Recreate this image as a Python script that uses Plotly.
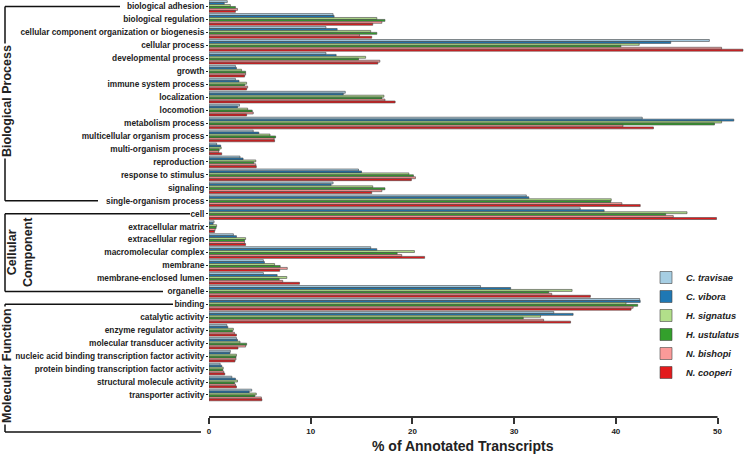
import plotly.graph_objects as go

categories = [
    "biological adhesion", "biological regulation",
    "cellular component organization or biogenesis", "cellular process",
    "developmental process", "growth", "immune system process", "localization",
    "locomotion", "metabolism process", "multicellular organism process",
    "multi-organism process", "reproduction", "response to stimulus",
    "signaling", "single-organism process",
    "cell", "extracellular matrix", "extracellular region",
    "macromolecular complex", "membrane", "membrane-enclosed lumen", "organelle",
    "binding", "catalytic activity", "enzyme regulator activity",
    "molecular transducer activity",
    "nucleic acid binding transcription factor activity",
    "protein binding transcription factor activity",
    "structural molecule activity", "transporter activity",
]

species = ["C. travisae", "C. vibora", "H. signatus", "H. ustulatus", "N. bishopi", "N. cooperi"]
colors = ["#a6cee3", "#1f78b4", "#b2df8a", "#33a02c", "#fb9a99", "#e31a1c"]

c_travisae = [1.8, 12.2, 11.5, 49.2, 11.5, 2.6, 2.6, 13.4, 3.0, 42.6, 4.35, 0.75, 3.05, 14.7, 12.2, 31.2,
              36.5, 0.5, 2.4, 15.9, 5.35, 5.35, 26.7,
              42.35, 33.9, 1.75, 2.7, 2.1, 1.1, 2.25, 4.2]
c_vibora = [1.5, 12.3, 12.6, 45.4, 12.5, 2.7, 2.95, 13.2, 2.8, 51.6, 4.9, 1.15, 3.35, 15.0, 12.0, 31.45,
            38.85, 0.4, 2.7, 16.5, 5.45, 6.7, 29.66,
            42.4, 35.8, 1.85, 2.8, 2.05, 1.25, 2.6, 3.95]
h_signatus = [2.1, 16.5, 15.9, 42.3, 15.4, 3.2, 3.7, 17.2, 3.8, 50.4, 6.0, 1.2, 4.6, 19.65, 16.1, 39.55,
              47.0, 0.75, 3.6, 20.2, 6.45, 7.65, 35.7,
              41.0, 32.6, 2.4, 3.05, 2.7, 1.4, 2.8, 4.65]
h_ustulatus = [2.6, 17.3, 16.5, 40.5, 14.7, 3.6, 3.5, 17.0, 4.25, 49.7, 6.55, 1.0, 4.4, 20.1, 17.3, 39.5,
               44.9, 0.7, 3.5, 18.5, 7.0, 6.9, 33.4,
               42.15, 30.9, 2.3, 3.7, 2.65, 1.35, 2.5, 4.5]
n_bishopi = [2.8, 17.0, 14.8, 50.4, 16.8, 3.6, 3.8, 17.3, 4.35, 40.7, 6.4, 0.95, 4.6, 20.3, 17.0, 40.6,
             45.65, 0.6, 3.5, 18.95, 7.7, 7.25, 33.7,
             41.7, 32.9, 2.5, 3.6, 2.65, 1.45, 2.6, 5.15]
n_cooperi = [2.6, 16.1, 16.0, 52.5, 16.6, 3.5, 3.7, 18.3, 3.7, 43.7, 6.45, 1.25, 4.65, 19.9, 16.0, 42.4,
             49.9, 0.55, 3.6, 21.2, 6.95, 8.9, 37.5,
             41.5, 35.55, 2.7, 2.85, 2.55, 1.55, 2.7, 5.2]

series = [c_travisae, c_vibora, h_signatus, h_ustulatus, n_bishopi, n_cooperi]

# groups: (label, first category, last category)
groups = [
    ("Biological Process", "biological adhesion", "single-organism process"),
    ("Cellular<br>Component", "cell", "organelle"),
    ("Molecular Function", "binding", "transporter activity"),
]

W, H = 745, 456
L, R, T, B = 209, 0, 0, 39
pw, ph = W - L - R, H - T - B


def px(x):
    return (x - L) / pw


def py(y):
    return (H - B - y) / ph


font = "Liberation Sans, Arial, sans-serif"

fig = go.Figure()
for name, vals, col in zip(species, series, colors):
    fig.add_trace(go.Bar(
        y=categories, x=vals, name=name, orientation="h",
        marker=dict(color=col, line=dict(color="#444", width=0.6)),
    ))

n = len(categories)
fig.update_layout(
    template="none",
    width=W, height=H, autosize=False,
    margin=dict(l=L, r=R, t=T, b=B, autoexpand=False),
    paper_bgcolor="white", plot_bgcolor="white",
    barmode="group", bargap=0.1, bargroupgap=0,
    font=dict(family=font, color="#222"),
    xaxis=dict(range=[0, 52.7], dtick=10, showgrid=False, zeroline=False, showline=False,
               automargin=False,
               ticks="outside", ticklen=6, tickwidth=1.5, tickcolor="#333",
               tickfont=dict(size=8, weight="bold")),
    yaxis=dict(type="category", categoryorder="array", categoryarray=categories,
               range=[n - 1 + 1.7, -0.5], showgrid=False, zeroline=False, showline=False,
               automargin=False,
               ticks="outside", ticklen=2, tickcolor="#222",
               tickfont=dict(size=8.3, weight="bold", color="#222")),
    legend=dict(x=1, y=py(263), xanchor="right", yanchor="top",
                font=dict(size=9.3, style="italic", weight="bold"),
                tracegroupgap=0, bgcolor="rgba(0,0,0,0)"),
    showlegend=True,
)

# x axis line from 0 to 50
fig.add_shape(type="line", xref="x", yref="paper", x0=0, x1=50, y0=0, y1=0,
              line=dict(color="#333", width=2))

fig.add_annotation(text="% of Annotated Transcripts", xref="x", yref="paper",
                   x=25, y=py(446), xanchor="center", yanchor="middle", showarrow=False,
                   font=dict(size=14, weight="bold", color="#222"))

# group brackets
row = ph / (n + 0.7 + 0.5)
def row_y(cat):
    return T + (categories.index(cat) + 0.5) * row

bracket = dict(color="#111", width=1.5)
ends = {"Biological Process": (120, 98), "Cellular<br>Component": (190, 163),
        "Molecular Function": (173, 201)}
for label, first, last in groups:
    y0 = row_y(first)
    y1 = row_y(last) if label != "Molecular Function" else 432
    top_end, bot_end = ends[label]
    fig.add_shape(type="line", xref="paper", yref="paper",
                  x0=px(5), x1=px(top_end), y0=py(y0), y1=py(y0), line=bracket)
    fig.add_shape(type="line", xref="paper", yref="paper",
                  x0=px(5), x1=px(5), y0=py(y0), y1=py(y1), line=bracket)
    fig.add_shape(type="line", xref="paper", yref="paper",
                  x0=px(5), x1=px(bot_end), y0=py(y1), y1=py(y1), line=bracket)

label_font = dict(size=12.5, weight="bold", color="#222")
fig.add_annotation(text="Biological Process", xref="paper", yref="paper",
                   x=px(7), y=py(101), xanchor="center", yanchor="middle",
                   textangle=-90, showarrow=False, bgcolor="white", font=label_font)
fig.add_annotation(text="Cellular<br>Component", xref="paper", yref="paper",
                   x=px(20), y=py(252), xanchor="center", yanchor="middle",
                   textangle=-90, showarrow=False, font=label_font)
fig.add_annotation(text="Molecular Function", xref="paper", yref="paper",
                   x=px(7), y=py(366), xanchor="center", yanchor="middle",
                   textangle=-90, showarrow=False, bgcolor="white", font=label_font)

fig.write_html("out.html", config={"displayModeBar": False},
               post_script="document.body.style.margin='0';")
